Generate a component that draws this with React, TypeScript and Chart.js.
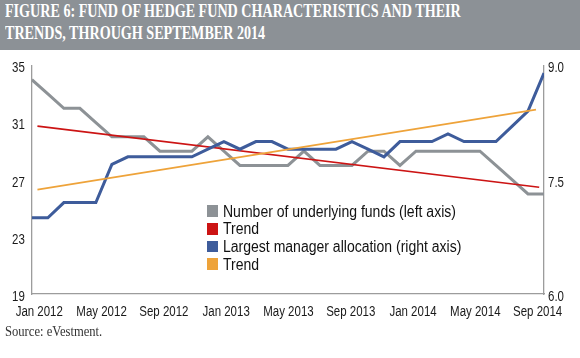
import React, { useEffect, useRef } from "react";
import { Chart, registerables } from "chart.js";

Chart.register(...registerables);

const months = [
  "Jan 2012", "Feb 2012", "Mar 2012", "Apr 2012", "May 2012", "Jun 2012", "Jul 2012", "Aug 2012", "Sep 2012", "Oct 2012", "Nov 2012", "Dec 2012",
  "Jan 2013", "Feb 2013", "Mar 2013", "Apr 2013", "May 2013", "Jun 2013", "Jul 2013", "Aug 2013", "Sep 2013", "Oct 2013", "Nov 2013", "Dec 2013",
  "Jan 2014", "Feb 2014", "Mar 2014", "Apr 2014", "May 2014", "Jun 2014", "Jul 2014", "Aug 2014", "Sep 2014",
];
const tickLabels = ["Jan 2012", "May 2012", "Sep 2012", "Jan 2013", "May 2013", "Sep 2013", "Jan 2014", "May 2014", "Sep 2014"];

// Number of underlying funds (left axis)
const underlyingFunds = [34, 33, 32, 32, 31, 30, 30, 30, 29, 29, 29, 30, 29, 28, 28, 28, 28, 29, 28, 28, 28, 29, 29, 28, 29, 29, 29, 29, 29, 28, 27, 26, 26];
// Largest manager allocation (right axis)
const largestAllocation = [7.0, 7.0, 7.2, 7.2, 7.2, 7.7, 7.8, 7.8, 7.8, 7.8, 7.8, 7.9, 8.0, 7.9, 8.0, 8.0, 7.9, 7.9, 7.9, 7.9, 8.0, 7.9, 7.8, 8.0, 8.0, 8.0, 8.1, 8.0, 8.0, 8.0, 8.2, 8.4, 8.9];

// Trend lines (month index, value)
const fundsTrendX = [0.35, 31.7];
const fundsTrend = [30.75, 26.47];
const allocTrendX = [0.35, 31.5];
const allocTrend = [7.37, 8.42];

const leftTicks = [19, 23, 27, 31, 35];
const rightTicks = [6.0, 7.5, 9.0];

const COLORS = {
  funds: "#8d9296",
  fundsTrend: "#cc1414",
  alloc: "#3e5c9b",
  allocTrend: "#eea33a",
};

const TICK_FONT = "'Liberation Sans', Arial, sans-serif";

const legendItems = [
  { label: "Number of underlying funds (left axis)", color: COLORS.funds },
  { label: "Trend", color: COLORS.fundsTrend },
  { label: "Largest manager allocation (right axis)", color: COLORS.alloc },
  { label: "Trend", color: COLORS.allocTrend },
];

// Draws the chart's own tick text horizontally condensed (narrow face look-alike)
const narrowTextPlugin = {
  id: "narrowText",
  beforeDraw(chart: any) {
    const ctx = chart.ctx as any;
    if (ctx.__narrowPatched) return;
    const orig = ctx.fillText.bind(ctx);
    ctx.fillText = (text: string, x: number, y: number, maxWidth?: number) => {
      ctx.save();
      ctx.translate(x, y);
      ctx.scale(0.82, 1);
      if (maxWidth !== undefined) orig(text, 0, 0, maxWidth / 0.82);
      else orig(text, 0, 0);
      ctx.restore();
    };
    ctx.__narrowPatched = true;
  },
};

export default function App() {
  const ref = useRef<HTMLCanvasElement | null>(null);

  useEffect(() => {
    if (!ref.current) return;
    const chart = new Chart(ref.current, {
      type: "line",
      data: {
        datasets: [
          {
            label: "Number of underlying funds (left axis)",
            data: underlyingFunds.map((v, i) => ({ x: i, y: v })),
            borderColor: COLORS.funds,
            borderWidth: 3,
            pointRadius: 0,
            xAxisID: "xd",
            yAxisID: "y",
            order: 4,
            tension: 0,
          },
          {
            label: "Trend",
            data: fundsTrendX.map((x, i) => ({ x, y: fundsTrend[i] })),
            borderColor: COLORS.fundsTrend,
            borderWidth: 1.6,
            pointRadius: 0,
            xAxisID: "xd",
            yAxisID: "y",
            order: 3,
          },
          {
            label: "Largest manager allocation (right axis)",
            data: largestAllocation.map((v, i) => ({ x: i, y: v })),
            borderColor: COLORS.alloc,
            borderWidth: 3,
            pointRadius: 0,
            xAxisID: "xd",
            yAxisID: "y2",
            order: 2,
            tension: 0,
          },
          {
            label: "Trend",
            data: allocTrendX.map((x, i) => ({ x, y: allocTrend[i] })),
            borderColor: COLORS.allocTrend,
            borderWidth: 1.6,
            pointRadius: 0,
            xAxisID: "xd",
            yAxisID: "y2",
            order: 1,
          },
        ],
      },
      options: {
        responsive: false,
        animation: false,
        layout: { padding: { top: 7, left: 0, right: 0, bottom: 0 } },
        plugins: { legend: { display: false }, tooltip: { enabled: false } },
        scales: {
          xd: {
            type: "linear",
            min: 0,
            max: months.length - 1,
            display: false,
          },
          x: {
            type: "linear",
            position: "bottom",
            min: -0.476,
            max: 32.41,
            afterBuildTicks: (scale: any) => {
              scale.ticks = tickLabels.map((_, k) => ({ value: k * 4 }));
            },
            afterFit: (scale: any) => {
              scale.height = 46;
            },
            grid: { display: false, drawTicks: false },
            border: { display: true, color: "#9c9c9c", width: 1.3 },
            ticks: {
              autoSkip: false,
              maxRotation: 0,
              padding: 10,
              color: "#1a1a1a",
              font: { family: TICK_FONT, size: 14 },
              callback: (_v: any, index: number) => tickLabels[index],
            },
          },
          y: {
            type: "linear",
            position: "left",
            min: leftTicks[0],
            max: leftTicks[leftTicks.length - 1],
            afterBuildTicks: (scale: any) => {
              scale.ticks = leftTicks.map((v) => ({ value: v }));
            },
            afterFit: (scale: any) => {
              scale.width = 25;
            },
            grid: { display: false, drawTicks: false },
            border: { display: true, color: "#9c9c9c", width: 1.3 },
            ticks: {
              padding: 7,
              labelOffset: 3,
              color: "#1a1a1a",
              font: { family: TICK_FONT, size: 14 },
              callback: (v: any) => String(v),
            },
          },
          y2: {
            type: "linear",
            position: "right",
            min: rightTicks[0],
            max: rightTicks[rightTicks.length - 1],
            afterBuildTicks: (scale: any) => {
              scale.ticks = rightTicks.map((v) => ({ value: v }));
            },
            afterFit: (scale: any) => {
              scale.width = 36;
            },
            grid: { display: false, drawTicks: false },
            border: { display: true, color: "#9c9c9c", width: 1.3 },
            ticks: {
              padding: 4,
              labelOffset: 3,
              color: "#1a1a1a",
              font: { family: TICK_FONT, size: 14 },
              callback: (v: any) => Number(v).toFixed(1),
            },
          },
        },
      },
      plugins: [narrowTextPlugin],
    });
    return () => chart.destroy();
  }, []);

  return (
    <div style={{ position: "absolute", left: 0, top: 0, width: 580, height: 358, background: "#fff", overflow: "hidden" }}>
      <div style={{ position: "absolute", left: 0, top: 0, width: 580, height: 50, background: "#8c9196" }}>
        {["FIGURE 6: FUND OF HEDGE FUND CHARACTERISTICS AND THEIR", "TRENDS, THROUGH SEPTEMBER 2014"].map((t, i) => (
          <div
            key={i}
            style={{
              position: "absolute",
              left: 5,
              top: i * 22,
              whiteSpace: "nowrap",
              fontFamily: "'Liberation Serif', serif",
              fontWeight: 700,
              fontSize: 19.5,
              lineHeight: "22px",
              color: "#fff",
              transform: "scaleX(0.724)",
              transformOrigin: "left center",
            }}
          >
            {t}
          </div>
        ))}
      </div>
      <canvas ref={ref} width={580} height={290} style={{ position: "absolute", left: 0, top: 50, width: 580, height: 290, display: "block" }} />
      {legendItems.map((it, i) => {
        const cy = 211 + i * 17.7;
        return (
          <React.Fragment key={i}>
            <div style={{ position: "absolute", left: 206.7, top: cy - 5.85, width: 11.7, height: 11.7, background: it.color }} />
            <div
              style={{
                position: "absolute",
                left: 223.3,
                top: cy - 8.45,
                whiteSpace: "nowrap",
                fontFamily: "'Liberation Sans', Arial, sans-serif",
                fontSize: 16,
                lineHeight: "18px",
                color: "#111",
                transform: "scaleX(0.876)",
                transformOrigin: "left center",
              }}
            >
              {it.label}
            </div>
          </React.Fragment>
        );
      })}
      <div
        style={{
          position: "absolute",
          left: 5,
          top: 324.3,
          whiteSpace: "nowrap",
          fontFamily: "'Liberation Serif', serif",
          fontSize: 14,
          lineHeight: "16px",
          color: "#333",
          transform: "scaleX(0.9)",
          transformOrigin: "left center",
        }}
      >
        Source: eVestment.
      </div>
    </div>
  );
}
